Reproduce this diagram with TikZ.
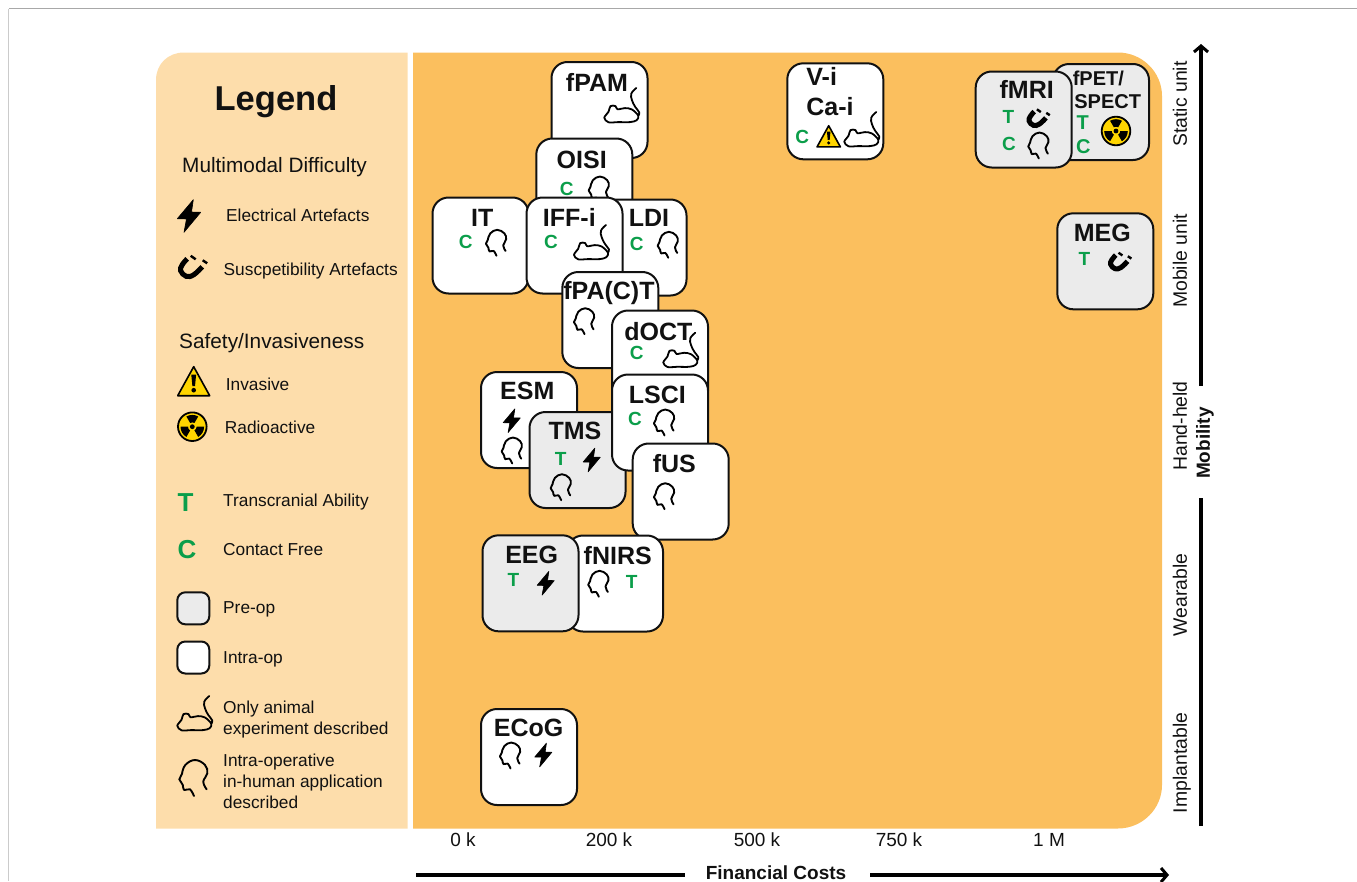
\documentclass[tikz,border=0pt]{standalone}
\usepackage{fontspec}
\setmainfont{Liberation Sans}
\usetikzlibrary{arrows.meta}
\definecolor{legbg}{HTML}{FDDDAB}
\definecolor{mainbg}{HTML}{FBBF5E}
\definecolor{preop}{HTML}{EBEBEB}
\definecolor{grn}{HTML}{0B9E4A}
\definecolor{ylw}{HTML}{FFD500}
\definecolor{frameg}{HTML}{A8A8A8}
\definecolor{ink}{HTML}{111111}
\tikzset{
  x=1pt,y=-1pt,
  card/.style={rectangle,rounded corners=16pt,draw=ink,line width=2pt,minimum width=96pt,minimum height=96pt,inner sep=0,outer sep=0},
  intra/.style={card,fill=white},
  pre/.style={card,fill=preop},
  ttl/.style={font=\fontsize{25}{25}\selectfont\bfseries,text=ink,inner sep=0,text height=18pt,text depth=0pt},
  ttls/.style={font=\fontsize{20}{20}\selectfont\bfseries,text=ink,inner sep=0,text height=14.5pt,text depth=0pt},
  gr/.style={font=\fontsize{19}{19}\selectfont\bfseries,text=grn,inner sep=0,text height=13.6pt,text depth=0pt},
  lab/.style={font=\fontsize{17.3}{21}\selectfont,text=ink,inner sep=0,anchor=west,text height=12.4pt,text depth=0pt},
  labm/.style={font=\fontsize{17.3}{21}\selectfont,text=ink,inner sep=0,anchor=west,align=left},
  hdr/.style={font=\fontsize{20.8}{24}\selectfont,text=ink,inner sep=0,anchor=west,text height=15pt,text depth=0pt},
  tick/.style={font=\fontsize{19}{19}\selectfont,text=ink,inner sep=0,text height=13.6pt,text depth=0pt},
  mob/.style={font=\fontsize{19.4}{19}\selectfont,text=ink,inner sep=0,rotate=90,text height=13.9pt,text depth=0pt},
  axisl/.style={draw=black,line width=3.5pt},
  pics/iconbolt/.style={code={
    \fill[black,draw=black,line width=.6pt,line join=round] (4.3,-16.3) -- (-11.7,2.7) -- (-2.5,3) -- (-5,16.3) -- (11.7,-3.7) -- (2.5,-4) -- cycle;}},
  pics/iconmagnet/.style={code={
    \draw[black,line width=5pt] plot[smooth,tension=.7] coordinates {(-4.5,-8.5) (-9.5,-2.5) (-11,3.5) (-5.5,9) (2,7.5) (10.5,-.5)};
    \draw[black,line width=2.4pt] (-1,-11.5) -- (4,-8);
    \draw[black,line width=2.4pt] (11,-7) -- (15.5,-4);}},
  pics/iconhead/.style={code={
    \draw[black,line width=1.9pt,line cap=round,line join=round] plot[smooth,tension=.6] coordinates {(.7,18.7) (-3.3,12) (-9,12.7) (-10.5,7.7)} -- (-14,2) -- (-11.3,-3.5)
      plot[smooth,tension=.7] coordinates {(-11.3,-3.5) (-8,-12.3) (1.7,-17.3) (11.7,-12.3) (14,-4) (10,4.3) (13.3,12)};}},
  pics/iconmouse/.style={code={
    \draw[black,line width=1.8pt,line cap=round,line join=round] plot[smooth cycle,tension=.55] coordinates {(-17.7,12.5) (-13.5,6.5) (-11.5,.8) (-6.5,.8) (-4.5,4) (3,2.8) (10,4.2) (16.3,10.5) (14.5,15) (8,16.8) (-4,16.8) (-13.5,17)};
    \draw[black,line width=1.8pt,line cap=round] plot[smooth,tension=.7] coordinates {(16.5,10) (17.2,7) (13.3,1.7) (10,-5) (9.3,-11.7) (14.3,-17.3)};}},
  pics/iconwarn/.style={code={
    \draw[black,fill=ylw,line width=1.6pt,line join=round] (0,-15) -- (16,14) -- (-16,14) -- cycle;
    \fill[black] (-2.4,-7) -- (2.4,-7) -- (1.3,4.5) -- (-1.3,4.5) -- cycle;
    \fill[black] (0,8.5) circle[radius=2.3];}},
  pics/iconradio/.style={code={
    \draw[black,fill=ylw,line width=1.8pt] (0,0) circle[radius=14.3];
    \foreach \a in {-90,30,150}{
      \fill[black] (\a-30:4.3) -- (\a-30:11.8) arc[start angle=\a-30,end angle=\a+30,radius=11.8] -- (\a+30:4.3) arc[start angle=\a+30,end angle=\a-30,radius=4.3] -- cycle;}
    \fill[black] (0,0) circle[radius=2.4];}},
}
\begin{document}
\begin{tikzpicture}
\useasboundingbox (0,0) rectangle (1357,881);
% page frame
\draw[frameg,line width=1.2pt] (1357,8.5) -- (8.5,8.5);
\draw[frameg!60,line width=1.2pt] (8.5,8.5) -- (8.5,881);
% panels
\fill[legbg] (156,828.5) -- (156,80) .. controls (156,64) and (168,52.5) .. (184,52.5) -- (407.5,52.5) -- (407.5,828.5) -- cycle;
\fill[mainbg] (413,52.5) -- (1118,52.5) .. controls (1142,52.5) and (1162,72) .. (1162,96) -- (1162,785) .. controls (1162,809) and (1142,828.5) .. (1118,828.5) -- (413,828.5) -- cycle;

% legend
\node[font=\fontsize{34.5}{34}\selectfont\bfseries,text=ink,inner sep=0,text height=24.8pt,text depth=0pt] (legtitle) at (276,98) {Legend};
\node[hdr] (lgmm) at (182,165) {Multimodal Difficulty};
\pic at (189,216) {iconbolt};
\node[lab] (lgel) at (226,215) {Electrical Artefacts};
\pic at (191.7,267.3) {iconmagnet};
\node[lab] (lgsu) at (223.5,269) {Suscpetibility Artefacts};
\node[hdr] (lgsa) at (179,341) {Safety/Invasiveness};
\pic at (193.7,381.7) {iconwarn};
\node[lab] (lgin) at (225.7,384) {Invasive};
\pic at (192.3,426.7) {iconradio};
\node[lab] (lgra) at (224.7,427) {Radioactive};
\node[gr,font=\fontsize{26}{26}\selectfont\bfseries,text height=18.7pt] (lgT) at (185.5,502) {T};
\node[lab] (lgtr) at (223,500) {Transcranial Ability};
\node[gr,font=\fontsize{26}{26}\selectfont\bfseries,text height=18.7pt] (lgC) at (187,549) {C};
\node[lab] (lgco) at (223,549) {Contact Free};
\node[pre,rounded corners=8pt,minimum width=32pt,minimum height=32pt] (lgpre) at (193.3,608.3) {};
\node[lab] (lgpr) at (223,607) {Pre-op};
\node[intra,rounded corners=8pt,minimum width=32pt,minimum height=32pt] (lgint) at (193.3,657.5) {};
\node[lab] (lgio) at (223,657) {Intra-op};
\pic at (195,713.3) {iconmouse};
\node[labm] (lgan) at (223,719.5) {Only animal\\experiment described};
\pic at (193.3,777.3) {iconhead};
\node[labm] (lghu) at (223,781) {Intra-operative\\in-human application\\described};

% cards
\node[intra] (fpam) at (599.5,110) {};
\node[ttl] (fpamt) at (597,82.7) {fPAM};
\pic at (622,105.3) {iconmouse};

\node[intra] (oisi) at (584.3,186.5) {};
\node[ttl] (oisit) at (581.7,159) {OISI};
\node[gr] (oisic) at (566.7,188.3) {C};
\pic[scale=.72] at (598.7,189) {iconhead};

\node[intra] (ldi) at (638.5,247.5) {};
\node[ttl] (ldit) at (649,217.7) {LDI};
\node[gr] (ldic) at (636.7,244) {C};
\pic[scale=.72] at (667.7,244.3) {iconhead};

\node[intra] (it) at (480.5,245.5) {};
\node[ttl] (itt) at (482.3,217.7) {IT};
\node[gr] (itc) at (465.7,241.7) {C};
\pic[scale=.72] at (496,242.3) {iconhead};

\node[intra] (iff) at (574.5,245.5) {};
\node[ttl] (ifft) at (569.3,217.7) {IFF-i};
\node[gr] (iffc) at (551,241.7) {C};
\pic at (591.7,242.3) {iconmouse};

\node[intra] (fpa) at (610.3,320) {};
\node[ttl] (fpat) at (609,290.7) {fPA(C)T};
\pic[scale=.72] at (584,320.7) {iconhead};

\node[intra] (doct) at (660,358.5) {};
\node[ttl] (doctt) at (658.3,331) {dOCT};
\node[gr] (doctc) at (636.7,352.7) {C};
\pic at (681,350) {iconmouse};

\node[intra] (esm) at (529,420) {};
\node[ttl] (esmt) at (527.3,390.7) {ESM};
\pic[scale=.73] at (511.7,420.7) {iconbolt};
\pic[scale=.72] at (511.7,450) {iconhead};

\node[pre] (tms) at (577.5,460) {};
\node[ttl] (tmst) at (575,430) {TMS};
\node[gr] (tmsT) at (560.7,459) {T};
\pic[scale=.73] at (591.7,460) {iconbolt};
\pic[scale=.72] at (560.7,486.7) {iconhead};

\node[intra] (lsci) at (660,422.5) {};
\node[ttl] (lscit) at (657.3,394.3) {LSCI};
\node[gr] (lscic) at (635,418.3) {C};
\pic[scale=.72] at (664,422) {iconhead};

\node[intra] (fus) at (680.7,491.5) {};
\node[ttl] (fust) at (674.3,463.3) {fUS};
\pic[scale=.72] at (664,495.7) {iconhead};

\node[intra] (fnirs) at (615,583.5) {};
\node[ttl] (fnirst) at (617.7,555) {fNIRS};
\pic[scale=.72] at (598.3,583.3) {iconhead};
\node[gr] (fnirsT) at (631.7,581.7) {T};

\node[pre] (eeg) at (530.5,583.3) {};
\node[ttl] (eegt) at (531.7,554) {EEG};
\node[gr] (eegT) at (513.3,579.3) {T};
\pic[scale=.73] at (545.7,583.3) {iconbolt};

\node[intra] (ecog) at (529,757) {};
\node[ttl] (ecogt) at (528.7,727.3) {ECoG};
\pic[scale=.72] at (510,755) {iconhead};
\pic[scale=.73] at (543.3,755) {iconbolt};

\node[intra] (vi) at (835.3,111.3) {};
\node[ttl] (vit) at (821.7,76) {V-i};
\node[ttl] (cait) at (830,106) {Ca-i};
\node[gr] (vic) at (802.3,136.7) {C};
\pic[scale=.73] at (828.7,136.7) {iconwarn};
\pic at (862,129.3) {iconmouse};

\node[pre] (fpet) at (1101,112) {};
\node[ttls] (fpett) at (1098.3,78.3) {fPET/};
\node[ttls] (spect) at (1107.7,101.7) {SPECT};
\node[gr,font=\fontsize{20}{20}\selectfont\bfseries,text height=14.3pt] (fpetT) at (1082.7,122.7) {T};
\node[gr,font=\fontsize{20}{20}\selectfont\bfseries,text height=14.3pt] (fpetC) at (1083.3,146.7) {C};
\pic at (1116,131) {iconradio};

\node[pre] (fmri) at (1023.7,119.5) {};
\node[ttl] (fmrit) at (1026.7,89.3) {fMRI};
\node[gr] (fmriT) at (1008.3,116.7) {T};
\pic[scale=.78] at (1037.7,118.3) {iconmagnet};
\node[gr] (fmriC) at (1009,144) {C};
\pic[scale=.72] at (1038.3,145) {iconhead};

\node[pre] (meg) at (1105.3,261.3) {};
\node[ttl] (megt) at (1102.3,232.3) {MEG};
\node[gr] (megT) at (1084.3,259) {T};
\pic[scale=.78] at (1119.3,261.7) {iconmagnet};

% mobility axis
\node[mob] (mstat) at (1180,104) {Static unit};
\node[mob] (mmobi) at (1180,261) {Mobile unit};
\node[mob] (mhand) at (1180,426) {Hand-held};
\node[mob] (mwear) at (1180,595) {Wearable};
\node[mob] (mimpl) at (1180,763) {Implantable};
\node[mob,font=\fontsize{19}{19}\selectfont\bfseries] (mobil) at (1203,443) {Mobility};
\coordinate (mb) at (1201,826);
\coordinate (mc) at (1201,498);
\coordinate (md) at (1201,386);
\coordinate (mt) at (1201,44);
\draw[axisl] (mb) -- (mc);
\draw[axisl,-{Straight Barb[length=6pt,width=14pt,line width=3pt]}] (md) -- (mt);

% cost axis
\node[tick] (c0) at (463,840) {0 k};
\node[tick] (c2) at (609,840) {200 k};
\node[tick] (c5) at (757,840) {500 k};
\node[tick] (c7) at (899,840) {750 k};
\node[tick] (c1) at (1049,840) {1 M};
\node[font=\fontsize{19}{19}\selectfont\bfseries,text=ink,inner sep=0,text height=13.6pt,text depth=0pt] (fincost) at (776,872.5) {Financial Costs};
\coordinate (fa) at (416,875);
\coordinate (fb) at (685,875);
\coordinate (fc) at (870,875);
\coordinate (fd) at (1169,875);
\draw[axisl] (fa) -- (fb);
\draw[axisl,-{Straight Barb[length=6pt,width=14pt,line width=3pt]}] (fc) -- (fd);
\end{tikzpicture}
\end{document}
